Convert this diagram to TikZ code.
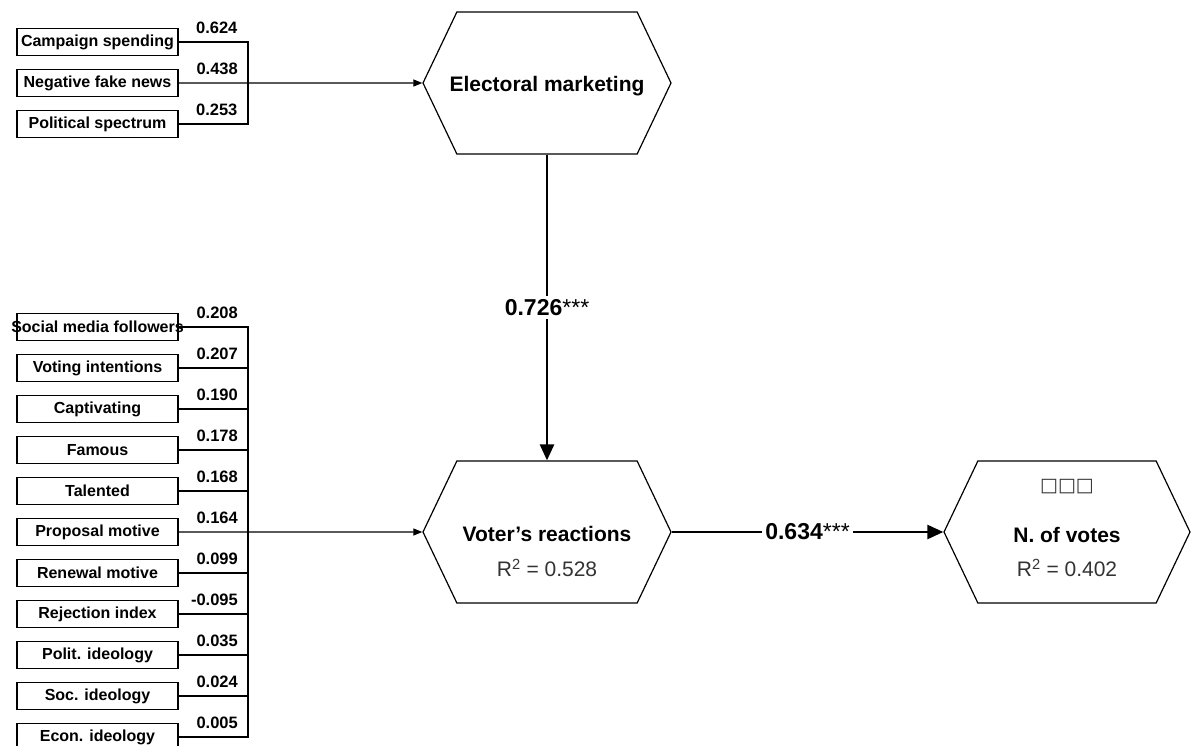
\documentclass[tikz,border=0pt]{standalone}
\usepackage{fontspec}
\setmainfont{Liberation Sans}
\newfontfamily\symfont{DejaVu Sans}
\usepackage{tikz}
\usetikzlibrary{arrows.meta, positioning, shapes.symbols}

\tikzset{
  indbox/.style={draw, line width=1.2pt, minimum width=161pt, minimum height=27pt, inner sep=0pt, font=\fontsize{16}{18}\selectfont\bfseries},
  loadlbl/.style={anchor=east, inner sep=0pt, xshift=-10pt, yshift=14pt, font=\fontsize{16.5}{18}\selectfont\bfseries},
  loadline/.style={line width=1.2pt},
  loadarrow/.style={line width=1.2pt, -{Triangle[length=9pt, width=7pt]}},
  hexnode/.style={draw, line width=1.2pt, signal, signal to=west and east, signal pointer angle=129, minimum width=248pt, minimum height=142pt, inner sep=0pt},
  hexname/.style={font=\fontsize{21}{24}\selectfont\bfseries},
  r2lbl/.style={text=black!80, font=\fontsize{21}{24}\selectfont},
  symtxt/.style={text=black!80, font=\symfont\fontsize{19}{22}\selectfont},
  strpath/.style={line width=2.5pt, -{Triangle[length=16pt, width=14pt]}},
  pathlbl/.style={fill=white, inner sep=3pt, font=\fontsize{23}{26}\selectfont\bfseries},
}

\begin{document}
\begin{tikzpicture}[x=1pt, y=-1pt, node distance=12.8pt]
  % pixel grid of the figure, y runs downwards
  \useasboundingbox (0,0) rectangle (1191,746);

  % constructs
  \node[hexnode] (em) at (547,83) {};
  \node[hexname] (emname) at ([yshift=-3pt]em.center) {Electoral marketing};
  \node[hexnode] (vr) at (547,532) {};
  \node[hexname] (vrname) at ([yshift=-2pt]vr.center) {Voter's reactions};
  \node[r2lbl] (vrr2) at ([yshift=-36pt]vr.center) {R\textsuperscript{2} = 0.528};
  \node[hexnode, minimum width=246pt] (nv) at (1067,532) {};
  \node[symtxt] (nvsym) at ([yshift=45pt]nv.center) {□□□};
  \node[hexname] (nvname) at ([yshift=-3pt]nv.center) {N. of votes};
  \node[r2lbl] (nvr2) at ([yshift=-36pt]nv.center) {R\textsuperscript{2} = 0.402};

  % structural paths
  \draw[strpath] (em.south) -- node[pathlbl] {0.726{\mdseries ***}} (vr.north);
  \draw[strpath] (vr.east) -- node[pathlbl] {0.634{\mdseries ***}} (nv.west);

  % indicators of electoral marketing
  \node[indbox] (cs) at (97.5,42) {Campaign spending};
  \node[indbox, below=of cs] (nf) {Negative fake news};
  \node[indbox, below=of nf] (ps) {Political spectrum};
  \coordinate (jtop) at (248,0);
  \draw[loadline] (cs.east) -- (cs.east -| jtop) node[loadlbl] {0.624}
    -- (ps.east -| jtop) node[loadlbl] {0.253} -- (ps.east);
  \draw[loadarrow] (nf.east) -- (em.west);
  \node[loadlbl] (lnf) at (nf.east -| jtop) {0.438};

  % indicators of voter's reactions
  \node[indbox] (smf) at (97.5,327) {\makebox[0pt]{Social media followers}};
  \node[indbox, below=of smf] (vin) {Voting intentions};
  \node[indbox, below=of vin] (cap) {Captivating};
  \node[indbox, below=of cap] (fam) {Famous};
  \node[indbox, below=of fam] (tal) {Talented};
  \node[indbox, below=of tal] (prm) {Proposal motive};
  \node[indbox, below=of prm] (rnm) {Renewal motive};
  \node[indbox, below=of rnm] (rji) {Rejection index};
  \node[indbox, below=of rji] (pid) {Polit. ideology};
  \node[indbox, below=of pid] (sid) {Soc. ideology};
  \node[indbox, below=of sid] (eid) {Econ. ideology};
  \coordinate (jbot) at (248,0);
  \draw[loadline] (smf.east) -- (smf.east -| jbot) -- (eid.east -| jbot) -- (eid.east);
  \draw[loadline] (vin.east) -- (vin.east -| jbot);
  \draw[loadline] (cap.east) -- (cap.east -| jbot);
  \draw[loadline] (fam.east) -- (fam.east -| jbot);
  \draw[loadline] (tal.east) -- (tal.east -| jbot);
  \draw[loadline] (rnm.east) -- (rnm.east -| jbot);
  \draw[loadline] (rji.east) -- (rji.east -| jbot);
  \draw[loadline] (pid.east) -- (pid.east -| jbot);
  \draw[loadline] (sid.east) -- (sid.east -| jbot);
  \draw[loadarrow] (prm.east) -- (vr.west);

  % loadings
  \node[loadlbl] (lsmf) at (smf.east -| jbot) {0.208};
  \node[loadlbl] (lvin) at (vin.east -| jbot) {0.207};
  \node[loadlbl] (lcap) at (cap.east -| jbot) {0.190};
  \node[loadlbl] (lfam) at (fam.east -| jbot) {0.178};
  \node[loadlbl] (ltal) at (tal.east -| jbot) {0.168};
  \node[loadlbl] (lprm) at (prm.east -| jbot) {0.164};
  \node[loadlbl] (lrnm) at (rnm.east -| jbot) {0.099};
  \node[loadlbl] (lrji) at (rji.east -| jbot) {-0.095};
  \node[loadlbl] (lpid) at (pid.east -| jbot) {0.035};
  \node[loadlbl] (lsid) at (sid.east -| jbot) {0.024};
  \node[loadlbl] (leid) at (eid.east -| jbot) {0.005};
\end{tikzpicture}
\end{document}
